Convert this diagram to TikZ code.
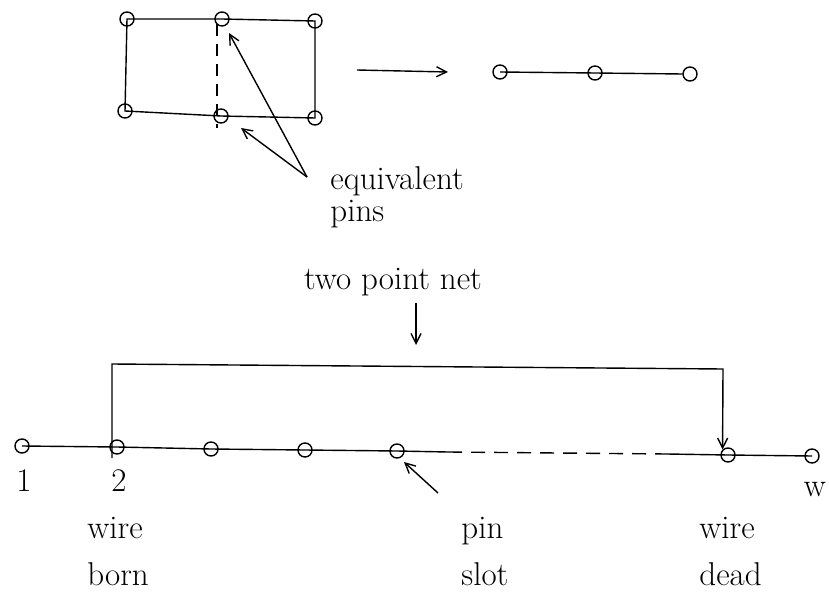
\documentclass[tikz,border=0pt]{standalone}
\usetikzlibrary{arrows.meta}
\begin{document}
\begin{tikzpicture}[x=0.5pt,y=-0.5pt,
  pin/.style={circle,draw,line width=0.7pt,inner sep=0pt,minimum size=7pt},
  ln/.style={line width=0.7pt},
  arr/.style={line width=0.7pt,-{Straight Barb[length=5pt,width=5pt,line width=0.7pt]}},
  lbl/.style={font=\fontsize{16.5}{19}\selectfont,inner sep=0pt}]
\useasboundingbox (0,0) rectangle (829,593);
% top rectangle
\node[pin] (p1) at (127,19) {};
\node[pin] (p2) at (222,19) {};
\node[pin] (p3) at (315,21) {};
\node[pin] (p4) at (125,111) {};
\node[pin] (p5) at (221,116) {};
\node[pin] (p6) at (315,118) {};
\coordinate (d1) at (217,24);
\coordinate (d2) at (217,128);
\draw[ln] (p1.center) -- (p2.center) -- (p3.center) -- (p6.center) -- (p5.center) -- (p4.center) -- cycle;
\draw[ln,dashed,dash pattern=on 6pt off 4pt] (d1) -- (d2);
% transformation arrow
\coordinate (a1) at (357,70);
\coordinate (a2) at (448,72);
\draw[arr] (a1) -- (a2);
\node[pin] (q1) at (500,72) {};
\node[pin] (q2) at (595,73) {};
\node[pin] (q3) at (690,74) {};
\draw[ln] (q1.center) -- (q2.center) -- (q3.west);
% equivalent pins
\node[lbl,anchor=base west] (eq) at (330,190) {equivalent};
\node[lbl,anchor=base west] (pn) at (330,221) {pins};
\coordinate (e0) at (307,177);
\coordinate (t1) at (229,33);
\coordinate (t2) at (241,128);
\draw[arr] (e0) -- (t1);
\draw[arr] (e0) -- (t2);
% two point net
\node[lbl] (tpn) at (393,282) {two point net};
\coordinate (n1) at (416,303);
\coordinate (n2) at (416,345);
\draw[arr] (n1) -- (n2);
% main line
\node[pin] (s1) at (22,446) {};
\node[pin] (s2) at (117,447) {};
\node[pin] (s3) at (211,449) {};
\node[pin] (s4) at (305,450) {};
\node[pin] (s5) at (397,451) {};
\node[pin] (s6) at (728,455) {};
\node[pin] (s7) at (812,456) {};
\coordinate (c1) at (448,452);
\coordinate (c2) at (667,454);
\draw[ln] (s1.center) -- (s2.center) -- (s3.center) -- (s4.center) -- (s5.center) -- (c1);
\draw[ln,dashed,dash pattern=on 7pt off 4.5pt] (c1) -- (c2);
\draw[ln] (c2) -- (s6.center) -- (s7.center);
% bracket
\coordinate (b0) at (112,458);
\coordinate (b1) at (112,364);
\coordinate (b2) at (723,369);
\draw[arr] (b0) -- (b1) -- (b2) -- (s6.north west);
% pin slot arrow
\coordinate (ps) at (438,493);
\draw[arr] (ps) -- (404,462);
% labels
\node[lbl] (l1) at (24,481) {1};
\node[lbl] (l2) at (119,481) {2};
\node[lbl] (lw) at (815,490) {w};
\node[lbl,anchor=base west] (wb1) at (87,538) {wire};
\node[lbl,anchor=base west] (wb2) at (87,585) {born};
\node[lbl,anchor=base west] (ps1) at (461,538) {pin};
\node[lbl,anchor=base west] (ps2) at (461,585) {slot};
\node[lbl,anchor=base west] (wd1) at (699,538) {wire};
\node[lbl,anchor=base west] (wd2) at (699,585) {dead};
\end{tikzpicture}
\end{document}
